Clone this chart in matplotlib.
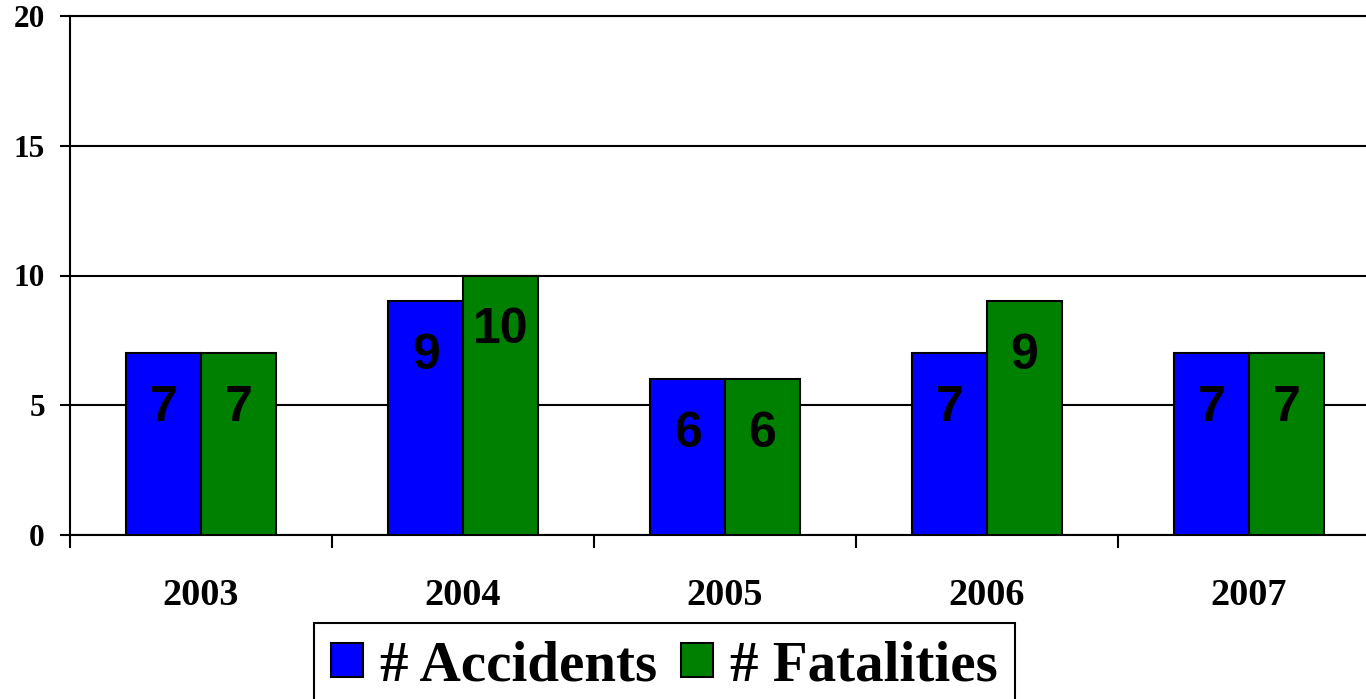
import matplotlib
matplotlib.use("Agg")
import numpy as np
import matplotlib.pyplot as plt
from matplotlib.ticker import FixedLocator

# === Data ===
years = ["2003", "2004", "2005", "2006", "2007"]
accidents = [7, 9, 6, 7, 7]
fatalities = [7, 10, 6, 9, 7]
y_ticks = [0, 5, 10, 15, 20]

serif = "Liberation Serif"
sans = "Liberation Sans"

fig = plt.figure(figsize=(13.66, 6.99), dpi=100)
# plot area runs past the right edge of the picture, as in the original
ax = fig.add_axes([70 / 1366, (699 - 535) / 699, 1310 / 1366, 519 / 699])

x = np.arange(len(years))
w = 0.285
b1 = ax.bar(x - w, accidents, w, align="edge", color="#0000FF",
            edgecolor="black", linewidth=1.5, zorder=3, label="# Accidents")
b2 = ax.bar(x, fatalities, w, align="edge", color="#008000",
            edgecolor="black", linewidth=1.5, zorder=3, label="# Fatalities")

# value labels inside the bars, a bit below the top
for bars, vals in ((b1, accidents), (b2, fatalities)):
    for rect, v in zip(bars, vals):
        ax.text(rect.get_x() + rect.get_width() / 2, v - 2.1, str(v),
                ha="center", va="center", fontsize=36, fontweight="bold",
                family=sans, zorder=4)

ax.set_xlim(-0.5, len(years) - 0.5)
ax.set_ylim(0, 20)
ax.set_yticks(y_ticks)
ax.set_yticklabels([str(t) for t in y_ticks], fontsize=22.5,
                   fontweight="bold", family=serif)
ax.yaxis.grid(True, color="black", linewidth=1.5, zorder=0)
ax.set_axisbelow(True)

# year labels at category centres, tick marks on the boundaries
ax.set_xticks(x)
ax.set_xticklabels(years, fontsize=27.5, fontweight="bold", family=serif)
ax.tick_params(axis="x", which="major", length=0, pad=31)
ax.xaxis.set_minor_locator(FixedLocator(np.arange(-0.5, len(years) + 0.5, 1)))
ax.tick_params(axis="x", which="minor", length=9.5, width=1.5,
               direction="out", color="black")
ax.tick_params(axis="y", length=7, width=1.5, direction="out", pad=11)

for s in ax.spines.values():
    s.set_linewidth(1.5)
    s.set_color("black")

leg = fig.legend(loc="upper left", bbox_to_anchor=(314 / 1366, 1 - 623 / 699),
                 ncol=2, frameon=True, fancybox=False, shadow=False,
                 framealpha=1, borderaxespad=0, borderpad=0.3,
                 handlelength=0.56, handleheight=0.56, handletextpad=0.3,
                 columnspacing=0.42,
                 prop={"family": serif, "weight": "bold", "size": 41})
leg.get_frame().set_edgecolor("black")
leg.get_frame().set_linewidth(1.5)

fig.savefig("out.png", dpi=100)
